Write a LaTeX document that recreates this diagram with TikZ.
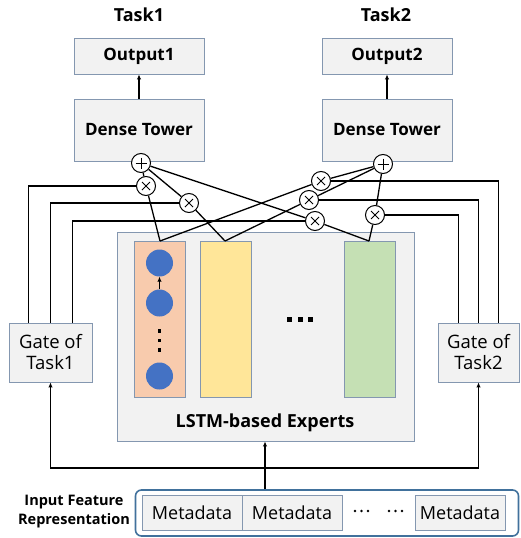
\documentclass[tikz,border=0pt]{standalone}
\usepackage{fontspec}
\setmainfont{Open Sans}
\usetikzlibrary{arrows.meta,calc}
\definecolor{boxfill}{HTML}{F2F2F2}
\definecolor{boxdraw}{HTML}{8497B0}
\definecolor{orangec}{HTML}{F8CBAD}
\definecolor{yellowc}{HTML}{FFE699}
\definecolor{greenc}{HTML}{C5E0B4}
\definecolor{bluec}{HTML}{4472C4}
\definecolor{inborder}{HTML}{41719C}
\begin{document}
\begin{tikzpicture}[x=1pt,y=-1pt,
  box/.style={draw=boxdraw, fill=boxfill, line width=0.9pt, inner sep=0pt, align=center,
              font=\fontsize{17}{20}\selectfont\bfseries},
  gatebox/.style={box, font=\fontsize{18.5}{21}\selectfont, minimum width=82pt, minimum height=59pt},
  metabox/.style={box, font=\fontsize{18}{20}\selectfont, minimum height=35pt},
  expcol/.style={draw=boxdraw, line width=0.9pt, minimum width=51pt, minimum height=156pt, inner sep=0pt},
  cell/.style={circle, fill=bluec, minimum size=27pt, inner sep=0pt},
  opc/.style={circle, draw, fill=white, line width=1pt, minimum size=19pt, inner sep=0pt},
  plusop/.style={opc, path picture={\draw[line width=1pt] (path picture bounding box.center) +(-5.5,0) -- +(5.5,0) +(0,-5.5) -- +(0,5.5);}},
  timesop/.style={opc, path picture={\draw[line width=1pt] (path picture bounding box.center) +(-4,-4) -- +(4,4) +(-4,4) -- +(4,-4);}},
  conn/.style={line width=1.3pt},
  arr/.style={conn, -{Latex[length=5pt,width=4.5pt]}},
  sq/.style={fill=black, minimum size=4.5pt, inner sep=0pt},
  dot/.style={circle, fill=black, minimum size=2.6pt, inner sep=0pt},
  title/.style={font=\fontsize{18}{20}\selectfont\bfseries}
]
\useasboundingbox (0,0) rectangle (521,538);

% titles
\node[title] (t1) at (139,15) {Task1};
\node[title] (t2) at (386,15) {Task2};

% outputs and towers
\node[box, minimum width=130pt, minimum height=36pt] (o1) at (139,56) {Output1};
\node[box, minimum width=130pt, minimum height=36pt] (o2) at (387,56) {Output2};
\node[box, minimum width=130pt, minimum height=62pt] (d1) at (139,130) {Dense Tower};
\node[box, minimum width=130pt, minimum height=62pt] (d2) at (387,130) {Dense Tower};
\draw[arr] (d1.north) -- (o1.south);
\draw[arr] (d2.north) -- (o2.south);

% gates
\node[gatebox, minimum width=83pt] (g1) at (50.5,352.5) {Gate of\\Task1};
\node[gatebox, minimum width=81pt] (g2) at (478.5,352.5) {Gate of\\Task2};

% experts
\node[draw=boxdraw, fill=boxfill, line width=0.9pt, minimum width=297pt, minimum height=209pt, inner sep=0pt] (ex) at (265.5,336.5) {};
\node[expcol, fill=orangec] (e1) at (159.5,319) {};
\node[expcol, fill=yellowc] (e2) at (225.5,319) {};
\node[expcol, fill=greenc] (e3) at (369.5,319) {};
\node[font=\fontsize{18}{20}\selectfont\bfseries] (exlab) at (265,423) {LSTM-based Experts};
\node[cell] (c1) at (159.5,263) {};
\node[cell] (c2) at (159.5,303) {};
\node[cell] (c3) at (159.5,376) {};
\draw[arr, line width=1pt] (c2) -- (c1);
\node[sq, minimum size=3.5pt] (v1) at (159.5,331) {};
\node[sq, minimum size=3.5pt] (v2) at (159.5,340.5) {};
\node[sq, minimum size=3.5pt] (v3) at (159.5,350) {};
\node[sq] (h1) at (289.5,319.5) {};
\node[sq] (h2) at (300.5,319.5) {};
\node[sq] (h3) at (310.5,319.5) {};

% operators
\node[plusop] (p1) at (141,163) {};
\node[plusop] (p2) at (383,164) {};
\node[timesop] (m11) at (146,186) {};
\node[timesop] (m12) at (189,203) {};
\node[timesop] (m13) at (315,221) {};
\node[timesop] (m21) at (321,181) {};
\node[timesop] (m22) at (309,200) {};
\node[timesop] (m23) at (375,215) {};

\coordinate (e1t) at (160,241);
\coordinate (e2t) at (225,241);
\coordinate (e3t) at (369,241);

\draw[conn] (e1t) -- (m11) -- (p1);
\draw[conn] (e2t) -- (m12) -- (p1);
\draw[conn] (e3t) -- (m13) -- (p1);
\draw[conn] (e1t) -- (m21) -- (p2);
\draw[conn] (e2t) -- (m22) -- (p2);
\draw[conn] (e3t) -- (m23) -- (p2);

% gate lines
\draw[conn] ([xshift=-22pt]g1.north) |- (m11);
\draw[conn] (g1.north) |- (m12);
\draw[conn] ([xshift=22pt]g1.north) |- (m13);
\draw[conn] ([xshift=20pt]g2.north) |- (m21);
\draw[conn] (g2.north) |- (m22);
\draw[conn] ([xshift=-20pt]g2.north) |- (m23);

% input
\node[draw=inborder, line width=1.6pt, rounded corners=6pt, minimum width=383pt, minimum height=46pt, inner sep=0pt] (in) at (327,513) {};
\node[metabox, minimum width=100pt] (md1) at (192,512.5) {Metadata};
\node[metabox, minimum width=100pt] (md2) at (292,512.5) {Metadata};
\node[metabox, minimum width=90pt] (md3) at (460,512.5) {Metadata};
\foreach \x/\n in {355/a,361.5/b,368/c,389/d,395.5/e,402/f}
  \node[dot] (dd\n) at (\x,511) {};
\node[font=\fontsize{14.5}{19}\selectfont\bfseries, align=center] (inlab) at (74,512) {Input Feature\\Representation};

\coordinate (jn) at (265,468);
\draw[arr] (jn |- in.north) -- (jn |- ex.south);
\draw[arr] (jn) -| (g1.south);
\draw[arr] (jn) -| (g2.south);
\end{tikzpicture}
\end{document}
